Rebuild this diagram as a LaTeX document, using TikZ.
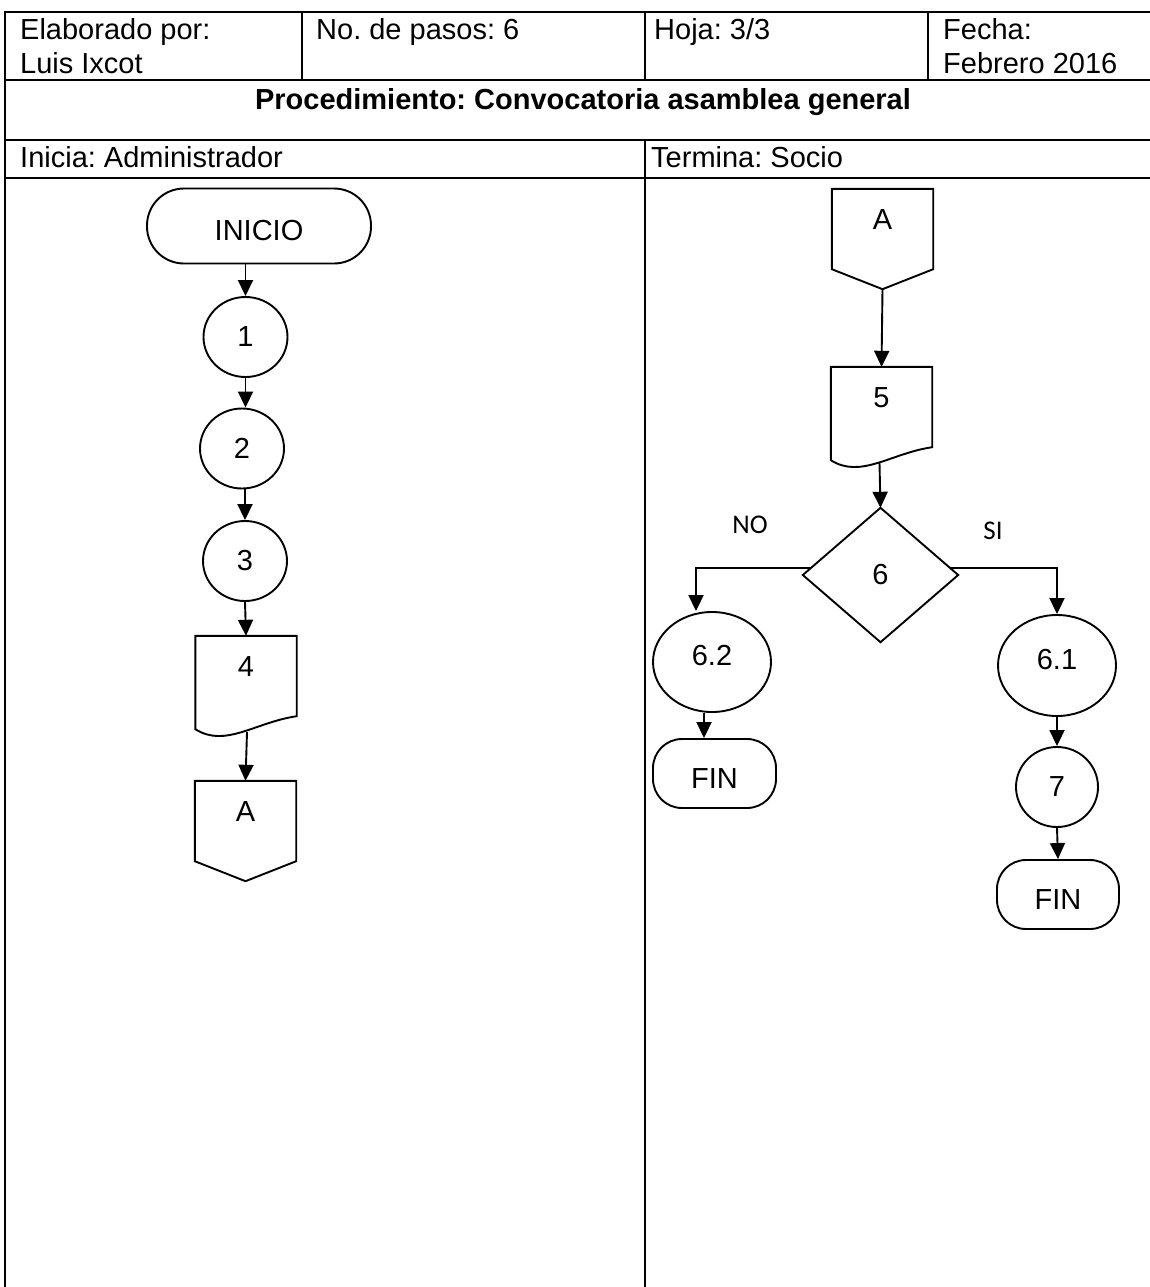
\documentclass[tikz,border=0pt]{standalone}
\usepackage{fontspec}
\setmainfont{Liberation Sans}
\newfontfamily\calibrifont{Carlito}
\usetikzlibrary{shapes.geometric,arrows.meta,calc}
\frenchspacing
\newcommand\docoutline[1]{\draw[shp] ($(#1.south west)+(0,13)$) .. controls ($(#1.south west)+(30,32)$) and ($(#1.south west)+(60,6)$) .. (#1.south east) -- (#1.north east) -- (#1.north west) -- cycle;}
\newcommand\offoutline[1]{\draw[shp] (#1.north west) -- (#1.north east) -- (#1.south east) -- ($(#1.south)+(0,20)$) -- (#1.south west) -- cycle;}
\begin{document}
\begin{tikzpicture}[x=1pt,y=-1pt,
  font=\fontsize{29}{34}\selectfont\frenchspacing,
  tbl/.style={line width=2.4pt, line cap=rect},
  hdr/.style={anchor=base west, inner sep=0pt},
  shp/.style={draw, line width=1.9pt},
  circ/.style={shp, ellipse, inner sep=0pt, minimum width=84pt, minimum height=80pt},
  term/.style={shp, rectangle, rounded corners=#1, inner sep=0pt},
  fcbox/.style={inner sep=0pt, minimum width=101pt, text height=40pt, text depth=40pt},
  arr/.style={line width=1.9pt, -{Triangle[length=16pt,width=15pt]}},
  lbl/.style={font=\calibrifont\fontsize{27}{32}\selectfont, inner sep=0pt}
]
\useasboundingbox (0,0) rectangle (1149,1287);
\fill[white] (0,0) rectangle (1149,1287);

% table
\draw[tbl] (5,12) -- (1149,12);
\draw[tbl] (5,80) -- (1149,80);
\draw[tbl] (5,140) -- (1149,140);
\draw[tbl] (5,178) -- (1149,178);
\draw[tbl] (5,12) -- (5,1290);
\draw[tbl] (302,12) -- (302,80);
\draw[tbl] (645,12) -- (645,80);
\draw[tbl] (928,12) -- (928,80);
\draw[tbl] (645,140) -- (645,1290);

\node[hdr] (elab1) at (20,40) {Elaborado por:};
\node[hdr] (elab2) at (20,74) {Luis Ixcot};
\node[hdr] (pasos) at (316,40) {No. de pasos: 6};
\node[hdr] (hoja) at (654,40) {Hoja: 3/3};
\node[hdr] (fecha1) at (943,40) {Fecha:};
\node[hdr] (fecha2) at (943,74) {Febrero 2016};
\node[anchor=base, inner sep=0pt] (titulo) at (583,110) {\bfseries Procedimiento: Convocatoria asamblea general};
\node[hdr] (inicia) at (20,167) {Inicia: Administrador};
\node[hdr] (termina) at (651,167) {Termina: Socio};

% left column
\node[term=37, minimum width=224pt, minimum height=75pt, text height=28pt, text depth=0pt] (ini) at (259,226) {INICIO};
\node[circ] (c1) at (245.5,337) {1};
\node[circ] (c2) at (242,448.5) {2};
\node[circ] (c3) at (245,561) {3};
\node[fcbox] (d4) at (246,676) {4};
\docoutline{d4}
\node[fcbox] (a1) at (245.5,821) {A};
\offoutline{a1}

\draw[arr] (ini.south -| c1.north) -- (c1.north);
\draw[arr] (c1.south) -- (c1.south |- c2.north);
\draw[arr] (c3.north |- c2.south) -- (c3.north);
\draw[arr] (c3.south) -- (d4.north);
\draw[arr] ($(d4.south)+(1,16)$) -- (a1.north);

% right column
\node[fcbox] (a2) at (882.5,229) {A};
\offoutline{a2}
\node[fcbox] (d5) at (881.5,407) {5};
\docoutline{d5}
\node[inner sep=0pt, minimum width=155pt, minimum height=134pt] (d6) at (880.5,575) {6};
\draw[shp] (d6.north) -- (d6.east) -- (d6.south) -- (d6.west) -- cycle;

\node[circ, minimum width=118pt, minimum height=100pt, text height=21pt, text depth=14pt] (e62) at (712,662) {6.2};
\node[circ, minimum width=118pt, minimum height=101pt, text height=21pt, text depth=14pt] (e61) at (1057,665.5) {6.1};
\node[circ, minimum width=82pt] (c7) at (1057,787) {7};
\node[term=29, minimum width=123pt, minimum height=69pt, text height=29pt, text depth=0pt] (fin1) at (714.5,773.5) {FIN};
\node[term=29, minimum width=122pt, minimum height=69pt, text height=29pt, text depth=0pt] (fin2) at (1058,894.5) {FIN};

\node[lbl] (no) at (750,525) {NO};
\node[lbl] (si) at (993,531) {SI};

\draw[arr] ($(a2.south)+(0,20)$) -- (d5.north);
\draw[arr] ($(d5.south)+(-2,16)$) -- (d6.north);
\draw[arr] ($(d6.west)!0.1!(d6.north)$) -| ([xshift=-16pt]e62.north);
\draw[arr] ($(d6.east)!0.1!(d6.north)$) -| (e61.north);
\draw[arr] ([xshift=-8pt]e62.south) -- ([xshift=-10.5pt]fin1.north);
\draw[arr] (e61.south) -- (c7.north);
\draw[arr] (c7.south) -- (fin2.north);
\end{tikzpicture}
\end{document}
